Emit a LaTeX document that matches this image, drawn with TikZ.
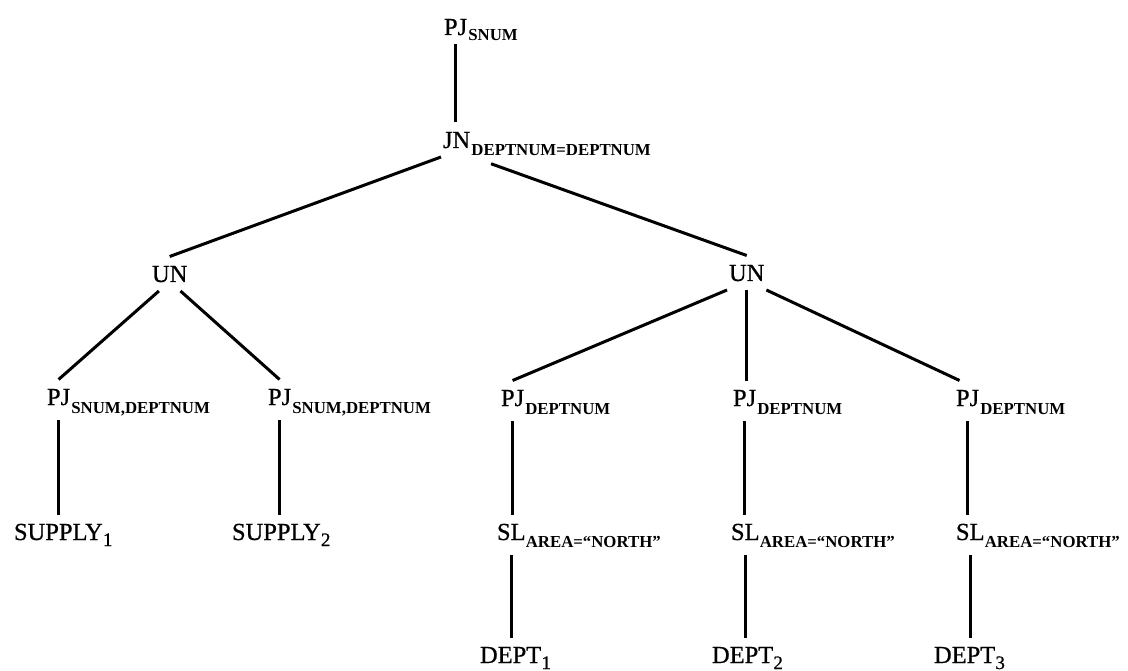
\documentclass[tikz,border=0pt]{standalone}
\usepackage{fontspec}
\setmainfont{Liberation Serif}
\newfontfamily\opfont[FakeBold=0.7]{Liberation Serif}
\begin{document}
\begin{tikzpicture}[x=1pt,y=-1pt,
  op/.style={anchor=base west, inner sep=0pt, outer xsep=2pt, outer ysep=9pt,
    text height=16.5pt, text depth=0pt, font=\opfont\fontsize{24.5}{28}\selectfont},
  sub/.style={anchor=base west, inner sep=0pt, font=\fontsize{16.8}{20}\selectfont\bfseries},
  idx/.style={anchor=base west, inner sep=0pt, font=\opfont\fontsize{19}{22}\selectfont},
  edge/.style={line width=3pt},
  stem/.style={edge, shorten <=6pt}]
\useasboundingbox (0,0) rectangle (1128,671);

% --- operator nodes, main word plus subscript ---
\node[op] (p0) at (442,35) {PJ};
\node[sub] (p0s) at ([shift={(-1pt,-6pt)}]p0.base east) {SNUM};

\node[op] (jn) at (441,148) {JN};
\node[sub] (jns) at ([shift={(-1pt,-8pt)}]jn.base east) {DEPTNUM=DEPTNUM};

\node[op] (u1) at (150,282) {UN};
\node[op] (u2) at (727,281) {UN};

\node[op] (a1) at (45,405) {PJ};
\node[sub] (a1s) at ([shift={(-1pt,-8pt)}]a1.base east) {SNUM,DEPTNUM};
\node[op] (a2) at (266,405) {PJ};
\node[sub] (a2s) at ([shift={(-1pt,-8pt)}]a2.base east) {SNUM,DEPTNUM};

\node[op] (b1) at (499,406) {PJ};
\node[sub] (b1s) at ([shift={(-1pt,-8pt)}]b1.base east) {DEPTNUM};
\node[op] (b2) at (731,406) {PJ};
\node[sub] (b2s) at ([shift={(-1pt,-8pt)}]b2.base east) {DEPTNUM};
\node[op] (b3) at (954,406) {PJ};
\node[sub] (b3s) at ([shift={(-1pt,-8pt)}]b3.base east) {DEPTNUM};

\node[op] (s1) at (12,540) {SUPPLY};
\node[idx] (s1i) at ([shift={(-2pt,-6pt)}]s1.base east) {1};
\node[op] (s2) at (230,540) {SUPPLY};
\node[idx] (s2i) at ([shift={(-2pt,-6pt)}]s2.base east) {2};

\node[op] (l1) at (495,540) {SL};
\node[sub] (l1s) at ([shift={(-2pt,-7pt)}]l1.base east) {AREA=``NORTH''};
\node[op] (l2) at (729,540) {SL};
\node[sub] (l2s) at ([shift={(-2pt,-7pt)}]l2.base east) {AREA=``NORTH''};
\node[op] (l3) at (954,540) {SL};
\node[sub] (l3s) at ([shift={(-2pt,-7pt)}]l3.base east) {AREA=``NORTH''};

\node[op] (d1) at (478,663) {DEPT};
\node[idx] (d1i) at ([shift={(-2pt,-6pt)}]d1.base east) {1};
\node[op] (d2) at (710,663) {DEPT};
\node[idx] (d2i) at ([shift={(-2pt,-6pt)}]d2.base east) {2};
\node[op] (d3) at (932,663) {DEPT};
\node[idx] (d3i) at ([shift={(-2pt,-6pt)}]d3.base east) {3};

% --- tree edges ---
\draw[edge] (p0.south) -- (p0.south |- jn.north);
\draw[edge] (jn.south west) -- (u1.north);
\draw[edge, shorten <=20pt] (jn.south east) -- (u2.north);

\draw[edge] (u1.-122) -- (a1.north);
\draw[edge] (u1.-58) -- (a2.north);

\draw[edge] (u2.south west) -- (b1.north);
\draw[edge] (u2.south) -- (u2.south |- b2.north);
\draw[edge] (u2.south east) -- (b3.115);

\draw[stem] (a1.south) -- (a1.south |- s1.north);
\draw[stem] (a2.south) -- (a2.south |- s2.north);

\draw[stem] (b1.south) -- (b1.south |- l1.north);
\draw[stem] (b2.south) -- (b2.south |- l2.north);
\draw[stem] (b3.south) -- (b3.south |- l3.north);

\draw[stem] (l1.south) -- (l1.south |- d1.north);
\draw[stem] (l2.south) -- (l2.south |- d2.north);
\draw[stem] (l3.south) -- (l3.south |- d3.north);
\end{tikzpicture}
\end{document}
